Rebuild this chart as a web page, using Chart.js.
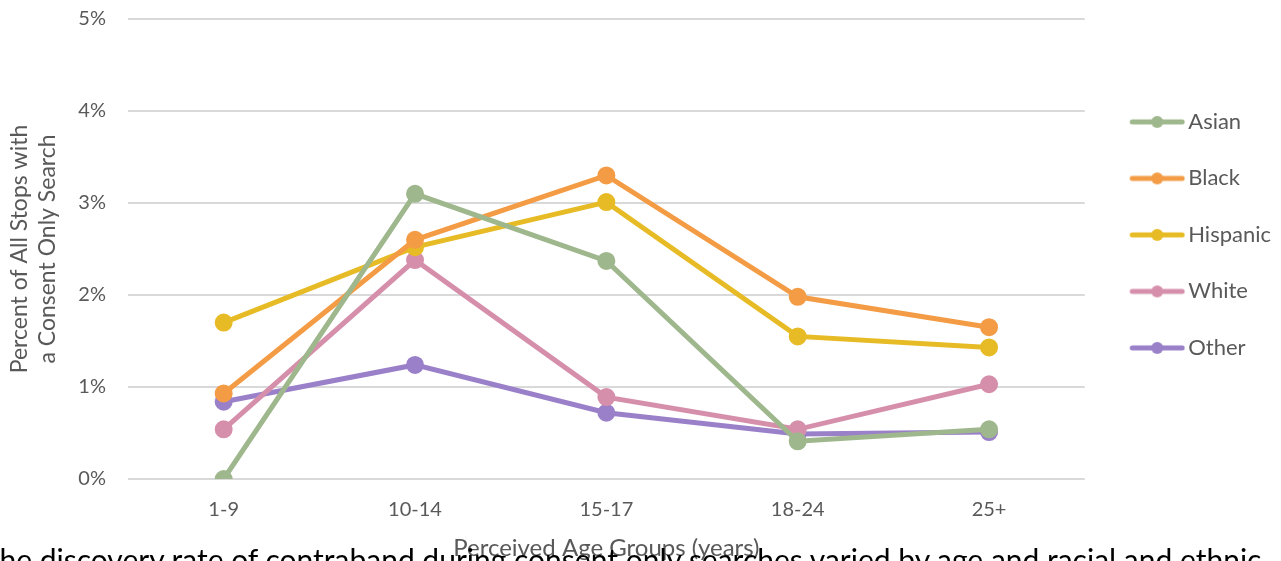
<!DOCTYPE html>
<html>
<head>
<meta charset="utf-8">
<script src="https://cdn.jsdelivr.net/npm/chart.js@4.4.1/dist/chart.umd.min.js"></script>
<style>
  html, body { margin: 0; padding: 0; background: #fff; overflow: hidden; }
  #wrap { position: relative; width: 1281px; height: 561px; }
  #doc-text {
    position: absolute; left: -18px; top: 541px; white-space: nowrap;
    font-family: Lato, sans-serif; font-size: 30px; color: #000;
  }
</style>
</head>
<body>
<div id="wrap">
  <canvas id="line-chart" width="1281" height="561"></canvas>
  <div id="doc-text">The discovery rate of contraband during consent only searches varied by age and racial and ethnic</div>
</div>
<script>
let ageGroups = ["1-9", "10-14", "15-17", "18-24", "25+"]
let asian = [0.0, 3.10, 2.37, 0.41, 0.54]
let black = [0.93, 2.60, 3.30, 1.98, 1.65]
let hispanic = [1.70, 2.52, 3.01, 1.55, 1.43]
let white = [0.54, 2.38, 0.89, 0.54, 1.03]
let other = [0.84, 1.24, 0.72, 0.49, 0.51]
let yTicks = [0, 1, 2, 3, 4, 5]

let groups = ["Asian", "Black", "Hispanic", "White", "Other"]
let colors = ["#9fb78d", "#f39c45", "#e7bb25", "#d68fab", "#9a80c9"]

// legend marker: short line with a dot in the middle
// (canvas is wider than the line so the line sits close to the text)
function marker(color) {
  let c = document.createElement("canvas")
  c.width = 74
  c.height = 16
  let ctx = c.getContext("2d")
  ctx.strokeStyle = color
  ctx.lineWidth = 5
  ctx.lineCap = "round"
  ctx.beginPath()
  ctx.moveTo(21, 8)
  ctx.lineTo(71, 8)
  ctx.stroke()
  ctx.fillStyle = color
  ctx.beginPath()
  ctx.arc(46, 8, 6, 0, Math.PI * 2)
  ctx.fill()
  return c
}

let series = [asian, black, hispanic, white, other]
let datasets = series.map((vals, i) => {
  return {
    label: groups[i],
    data: vals,
    borderColor: colors[i],
    backgroundColor: colors[i],
    borderWidth: 5,
    pointRadius: 6.5,
    pointHoverRadius: 7,
    pointStyle: "circle",
    tension: 0
  }
})

let font = "Lato, 'Open Sans', sans-serif"
let grey = "#595959"

new Chart(document.getElementById("line-chart"), {
  type: "line",
  data: { labels: ageGroups, datasets: datasets },
  options: {
    responsive: false,
    animation: false,
    layout: { padding: { top: 19, left: 6, right: 0, bottom: 0 } },
    plugins: {
      tooltip: { enabled: false },
      legend: {
        position: "right",
        align: "start",
        title: { display: true, text: "", padding: { top: 43, bottom: 0 } },
        labels: {
          usePointStyle: true,
          pointStyleWidth: 58,
          padding: 34.5,
          color: grey,
          font: { family: font, size: 22 },
          generateLabels: (chart) => {
            return chart.data.datasets.map((ds, i) => ({
              text: ds.label,
              pointStyle: marker(colors[i]),
              fontColor: grey,
              lineWidth: 0,
              strokeStyle: "transparent",
              fillStyle: colors[i],
              datasetIndex: i
            }))
          }
        }
      }
    },
    scales: {
      x: {
        offset: true,
        afterFit: (axis) => { axis.height = 82 },
        grid: { display: false, drawTicks: false },
        border: { display: false },
        ticks: { padding: 19, color: grey, font: { family: font, size: 20 } },
        title: {
          display: true,
          text: "Perceived Age Groups (years)",
          color: grey,
          font: { family: font, size: 24 },
          padding: { top: 0, bottom: -2 }
        }
      },
      y: {
        min: 0,
        max: 5,
        afterFit: (axis) => { axis.width = 122 },
        afterBuildTicks: (axis) => {
          axis.ticks = yTicks.map((v) => ({ value: v }))
        },
        // invisible tick marks make the gap, so label padding doesn't eat the plot height
        grid: { color: "#d9d9d9", lineWidth: 2, drawTicks: true, tickLength: 22, tickColor: "transparent" },
        border: { display: false },
        ticks: {
          padding: 0,
          color: grey,
          font: { family: font, size: 20 },
          callback: (v) => v + "%"
        },
        title: {
          display: true,
          text: ["Percent of All Stops with", "a Consent Only Search"],
          color: grey,
          font: { family: font, size: 23 },
          padding: { top: 0, bottom: 8 }
        }
      }
    }
  }
});
</script>
</body>
</html>
